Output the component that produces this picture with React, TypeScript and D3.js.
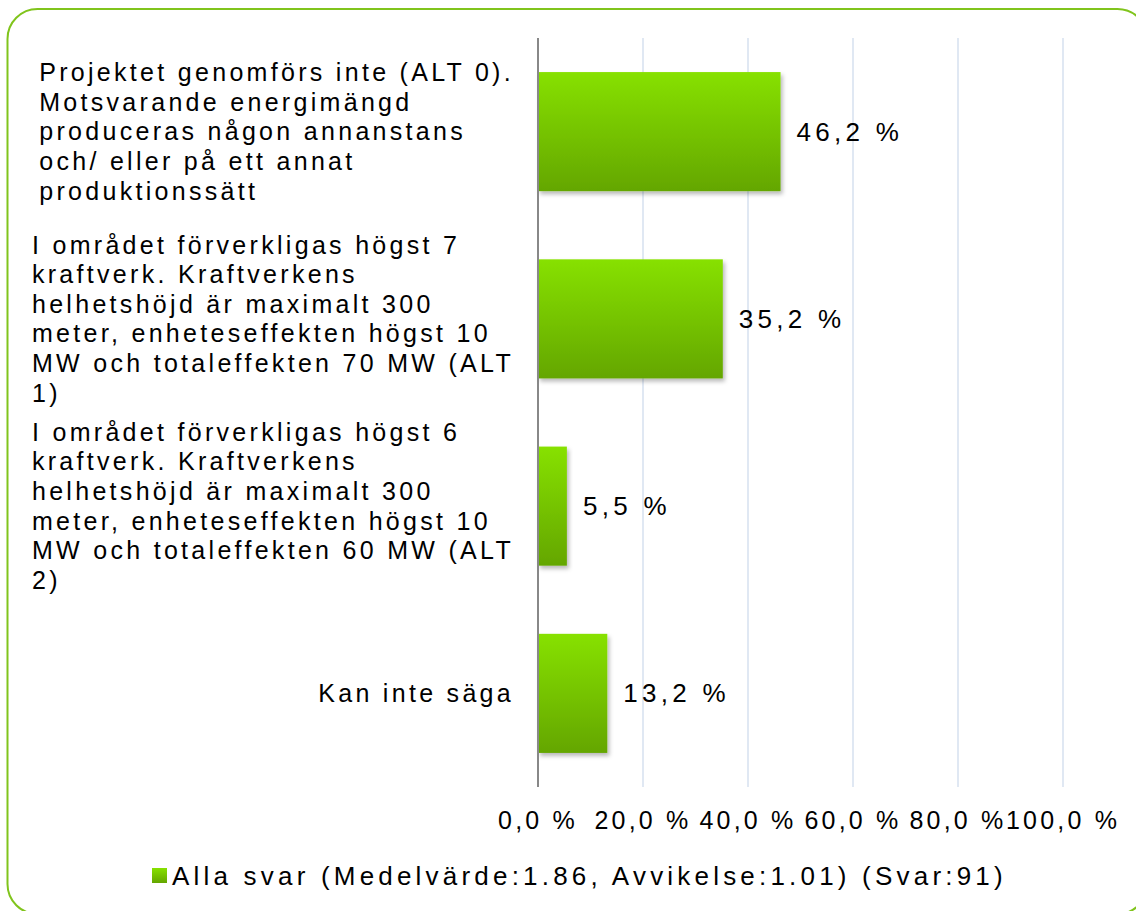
import React, { useEffect, useRef } from "react";
import * as d3 from "d3";

const categories: string[][] = [
  ["Projektet genomförs inte (ALT 0).", "Motsvarande energimängd", "produceras någon annanstans", "och/ eller på ett annat", "produktionssätt"],
  ["I området förverkligas högst 7", "kraftverk. Kraftverkens", "helhetshöjd är maximalt 300", "meter, enheteseffekten högst 10", "MW och totaleffekten 70 MW (ALT", "1)"],
  ["I området förverkligas högst 6", "kraftverk. Kraftverkens", "helhetshöjd är maximalt 300", "meter, enheteseffekten högst 10", "MW och totaleffekten 60 MW (ALT", "2)"],
  ["Kan inte säga"],
];
const values: number[] = [46.2, 35.2, 5.5, 13.2];
const valueLabels: string[] = ["46,2 %", "35,2 %", "5,5 %", "13,2 %"];
const ticks: number[] = [0, 20, 40, 60, 80, 100];
const tickLabels: string[] = ["0,0 %", "20,0 %", "40,0 %", "60,0 %", "80,0 %", "100,0 %"];
const legendLabel = "Alla svar (Medelvärde:1.86, Avvikelse:1.01) (Svar:91)";

const W = 1136;
const H = 911;
const FONT = "'Liberation Sans', Arial, sans-serif";

export default function App() {
  const ref = useRef<SVGSVGElement | null>(null);

  useEffect(() => {
    const svg = d3.select(ref.current);
    svg.selectAll("*").remove();

    const x0 = 538, x1 = 1063, yTop = 38, yBot = 787;
    const x = d3.scaleLinear().domain([0, 100]).range([x0, x1]);
    const ids = categories.map((_, i) => String(i));
    const y = d3.scaleBand<string>().domain(ids).range([yTop, yBot]).paddingInner(0.364).paddingOuter(0.182);

    const defs = svg.append("defs");
    const grad = defs.append("linearGradient").attr("id", "barGrad").attr("x1", 0).attr("y1", 0).attr("x2", 0).attr("y2", 1);
    grad.append("stop").attr("offset", "0%").attr("stop-color", "#87e100");
    grad.append("stop").attr("offset", "100%").attr("stop-color", "#64a600");
    const f = defs.append("filter").attr("id", "shadow").attr("x", "-10%").attr("y", "-10%").attr("width", "130%").attr("height", "130%");
    f.append("feDropShadow").attr("dx", 2).attr("dy", 3).attr("stdDeviation", 2).attr("flood-color", "#000").attr("flood-opacity", 0.28);

    // border
    svg.append("rect").attr("x", 7.5).attr("y", 9).attr("width", 1140).attr("height", 905)
      .attr("rx", 30).attr("ry", 30).attr("fill", "#fff").attr("stroke", "#80c41c").attr("stroke-width", 2);

    // grid
    svg.append("g").selectAll("line").data(ticks.filter((t) => t > 0)).join("line")
      .attr("x1", (d) => x(d)).attr("x2", (d) => x(d)).attr("y1", yTop).attr("y2", yBot)
      .attr("stroke", "#e0e8f3").attr("stroke-width", 2);

    // bars
    svg.append("g").selectAll("rect").data(values).join("rect")
      .attr("x", x(0)).attr("y", (_, i) => y(ids[i])!).attr("width", (d) => x(d) - x(0))
      .attr("height", y.bandwidth()).attr("fill", "url(#barGrad)").attr("filter", "url(#shadow)");

    // axis line
    svg.append("line").attr("x1", x0).attr("x2", x0).attr("y1", yTop).attr("y2", yBot)
      .attr("stroke", "#888").attr("stroke-width", 2);

    // value labels
    svg.append("g").selectAll("text").data(values).join("text")
      .attr("x", (d) => x(d) + 16).attr("y", (_, i) => y(ids[i])! + y.bandwidth() / 2)
      .attr("dy", "0.35em").attr("font-family", FONT).attr("font-size", 26).attr("letter-spacing", 4.3)
      .attr("fill", "#000").text((_, i) => valueLabels[i]);

    // tick labels
    svg.append("g").selectAll("text").data(ticks).join("text")
      .attr("x", (d) => x(d)).attr("y", 829).attr("text-anchor", "middle")
      .attr("font-family", FONT).attr("font-size", 25).attr("letter-spacing", 3.2)
      .attr("fill", "#000").text((_, i) => tickLabels[i]);

    // category labels
    const lineH = 29.6;
    const labelRight = 514;
    categories.forEach((lines, i) => {
      const cy = y(ids[i])! + y.bandwidth() / 2;
      const g = svg.append("g");
      const texts = g.selectAll("text").data(lines).join("text")
        .attr("y", (_, j) => cy + (j - (lines.length - 1) / 2) * lineH)
        .attr("dy", "0.35em").attr("font-family", FONT).attr("font-size", 25).attr("letter-spacing", 3.3)
        .attr("fill", "#000").text((d) => d);
      let maxW = 0;
      texts.each(function () {
        maxW = Math.max(maxW, (this as SVGTextElement).getComputedTextLength());
      });
      texts.attr("x", labelRight - maxW);
    });

    // legend
    svg.append("rect").attr("x", 152).attr("y", 868).attr("width", 15).attr("height", 15).attr("fill", "url(#barGrad)");
    svg.append("text").attr("x", 172).attr("y", 876).attr("dy", "0.35em")
      .attr("font-family", FONT).attr("font-size", 26).attr("letter-spacing", 4.2).attr("fill", "#000").text(legendLabel);
  }, []);

  return (
    <svg ref={ref} width={W} height={H} style={{ display: "block", position: "absolute", left: 0, top: 0 }} />
  );
}
